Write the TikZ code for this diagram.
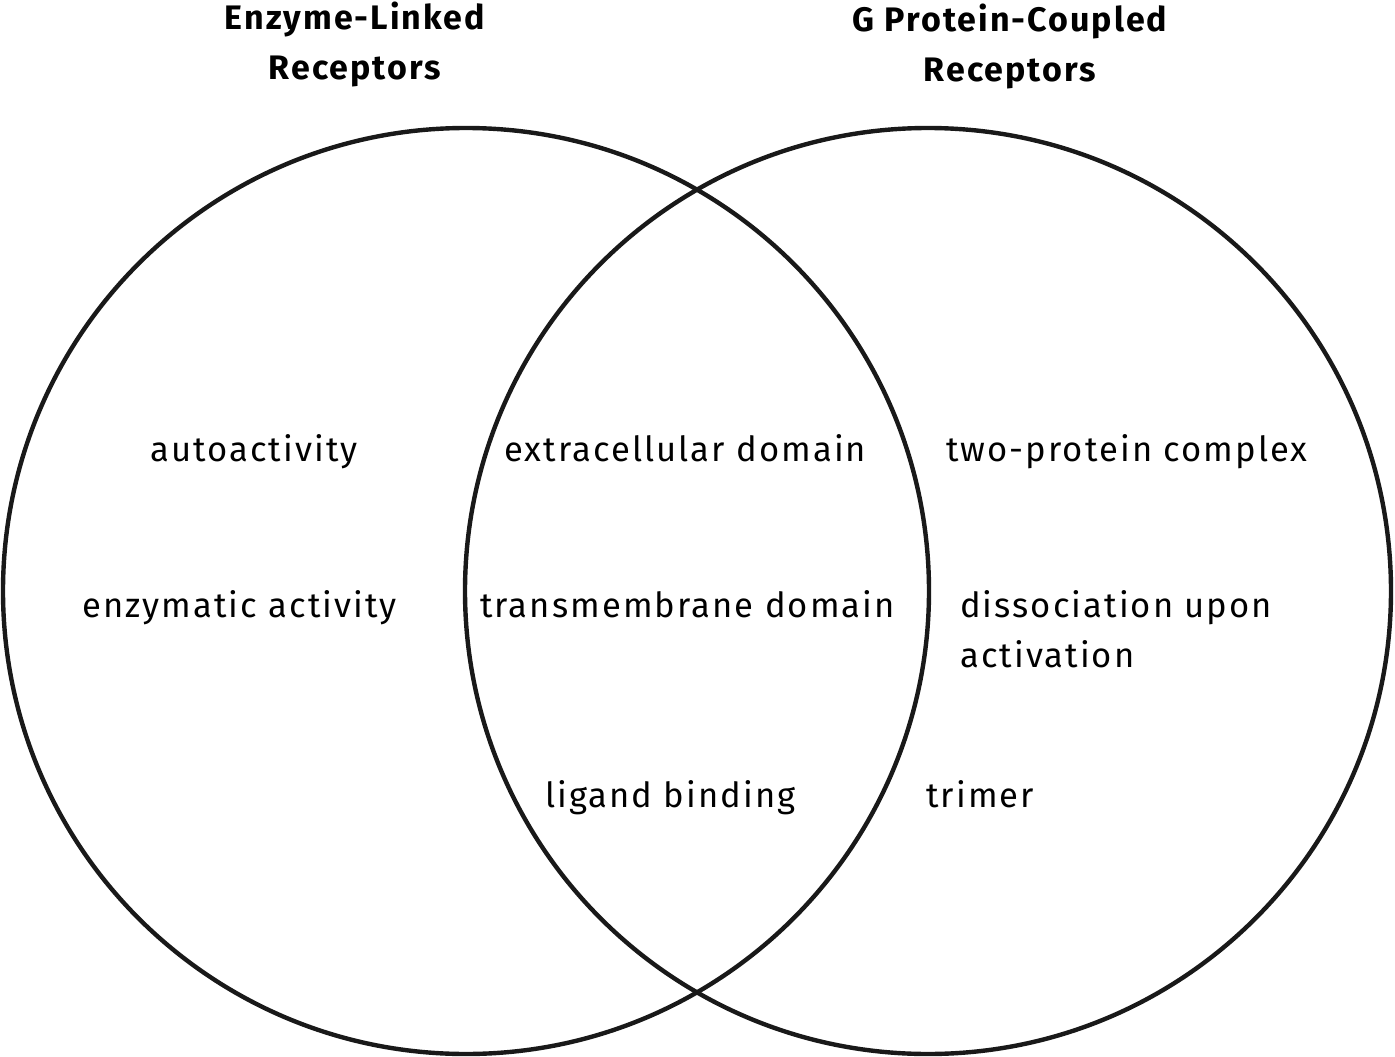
\documentclass[tikz,border=0pt]{standalone}
\usepackage{fontspec}
\setmainfont[LetterSpace=6]{Fira Sans}
\begin{document}
\begin{tikzpicture}[x=1pt,y=-1pt,
  ring/.style={draw=black!90,line width=4.4pt},
  lbl/.style={inner sep=0pt,anchor=base west,font=\fontsize{34.6}{50}\selectfont},
  ttl/.style={inner sep=0pt,align=center,font=\bfseries\fontsize{34}{50}\selectfont}]
\useasboundingbox (0,0) rectangle (1395,1057);
\node[ring,circle,minimum size=926pt,inner sep=0pt] (L) at (466,591) {};
\node[ring,circle,minimum size=926pt,inner sep=0pt] (R) at (928,591) {};
\node[ttl] (tl) at (355,44) {Enzyme-Linked\\Receptors};
\node[ttl] (tr) at (1010,46) {G Protein-Coupled\\Receptors};
\node[lbl] (a1) at (150,461) {autoactivity};
\node[lbl] (a2) at (82,617) {enzymatic activity};
\node[lbl] (b1) at (504,461) {extracellular domain};
\node[lbl] (b2) at (480,617) {transmembrane domain};
\node[lbl] (b3) at (545,807) {ligand binding};
\node[lbl] (c1) at (946,461) {two-protein complex};
\node[lbl] (c2) at (960,617) {dissociation upon};
\node[lbl] (c2b) at (960,667) {activation};
\node[lbl] (c3) at (926,807) {trimer};
\end{tikzpicture}
\end{document}
